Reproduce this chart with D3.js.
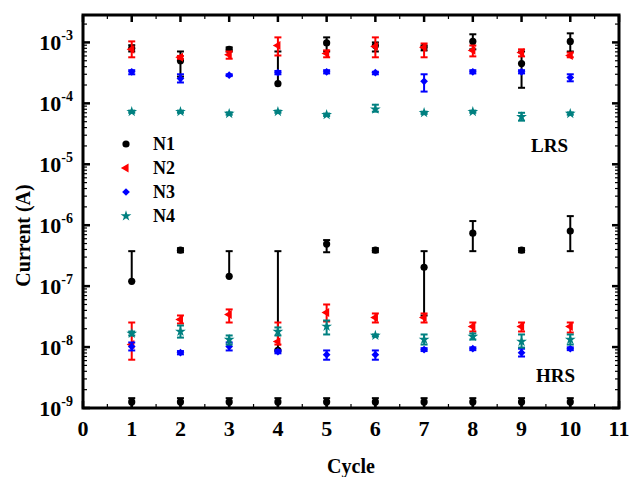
<!DOCTYPE html>
<html>
<head>
<meta charset="utf-8">
<script src="https://cdn.jsdelivr.net/npm/d3@7"></script>
<style>
body{margin:0;background:#fff;}
text{font-family:"Liberation Serif","Times New Roman",serif;font-weight:bold;}
</style>
</head>
<body>
<svg id="chart"></svg>
<script>
// values, cycles 1..10
var cycles=[1,2,3,4,5,6,7,8,9,10];
var xTicks=[0,1,2,3,4,5,6,7,8,9,10,11];
var yTicks=[-9,-8,-7,-6,-5,-4,-3];
var names=["N1","N2","N3","N4"];
var colors=["#000000","#ff0000","#0000ff","#008080"];

// LRS state: mean, lower and upper ends of the error bar
var n1L=[8.0e-4,5.0e-4,7.7e-4,2.1e-4,9.8e-4,8.9e-4,8.3e-4,1.04e-3,4.5e-4,1.04e-3];
var n1Llo=[7.1e-4,2.75e-4,7.1e-4,2.1e-4,7.1e-4,7.1e-4,7.4e-4,7.7e-4,1.8e-4,7.1e-4];
var n1Lhi=[9.0e-4,7.1e-4,8.3e-4,7.1e-4,1.21e-3,1.0e-3,8.9e-4,1.36e-3,7.1e-4,1.41e-3];
var n2L=[7.7e-4,5.7e-4,6.3e-4,8.9e-4,6.6e-4,8.6e-4,8.3e-4,7.4e-4,6.8e-4,6.1e-4];
var n2Llo=[5.7e-4,5.4e-4,5.4e-4,6.1e-4,5.7e-4,5.7e-4,5.7e-4,5.9e-4,5.9e-4,5.7e-4];
var n2Lhi=[1.04e-3,6.0e-4,7.1e-4,1.21e-3,7.4e-4,1.21e-3,9.6e-4,8.9e-4,7.7e-4,6.8e-4];
var n3L=[3.3e-4,2.55e-4,2.9e-4,3.2e-4,3.3e-4,3.2e-4,2.3e-4,3.3e-4,3.3e-4,2.65e-4];
var n3Llo=[3.0e-4,2.2e-4,2.8e-4,3.0e-4,3.1e-4,3.0e-4,1.56e-4,3.1e-4,3.1e-4,2.3e-4];
var n3Lhi=[3.5e-4,3.0e-4,3.0e-4,3.4e-4,3.5e-4,3.3e-4,3.0e-4,3.5e-4,3.5e-4,3.0e-4];
var n4L=[7.3e-5,7.3e-5,6.8e-5,7.3e-5,6.5e-5,8.0e-5,7.0e-5,7.3e-5,6.0e-5,6.8e-5];
var n4Llo=[7.0e-5,7.0e-5,6.5e-5,7.0e-5,6.2e-5,7.3e-5,6.7e-5,7.0e-5,5.2e-5,6.5e-5];
var n4Lhi=[7.6e-5,7.6e-5,7.1e-5,7.6e-5,6.8e-5,9.5e-5,7.3e-5,7.6e-5,7.0e-5,7.1e-5];

// HRS state
var n1H=[1.2e-7,3.9e-7,1.45e-7,8.8e-9,4.9e-7,3.9e-7,2.04e-7,7.4e-7,3.9e-7,8.0e-7];
var n1Hlo=[1.2e-7,3.6e-7,1.45e-7,8.8e-9,3.6e-7,3.6e-7,3.3e-8,3.75e-7,3.6e-7,3.75e-7];
var n1Hhi=[3.75e-7,4.2e-7,3.75e-7,3.75e-7,5.7e-7,4.2e-7,3.75e-7,1.17e-6,4.2e-7,1.41e-6];
var n2H=[1.1e-8,2.84e-8,3.43e-8,1.23e-8,3.7e-8,3.06e-8,3.06e-8,2.18e-8,2.18e-8,2.18e-8];
var n2Hlo=[6.2e-9,2.44e-8,2.53e-8,1.1e-8,2.63e-8,2.53e-8,2.53e-8,1.8e-8,1.8e-8,1.73e-8];
var n2Hhi=[2.53e-8,3.3e-8,4.15e-8,2.53e-8,5.0e-8,3.56e-8,3.56e-8,2.53e-8,2.53e-8,2.53e-8];
var n3H=[1.02e-8,8.1e-9,1.02e-8,8.4e-9,7.5e-9,7.5e-9,9.1e-9,9.4e-9,8.1e-9,9.4e-9];
var n3Hlo=[8.8e-9,7.6e-9,8.8e-9,7.9e-9,6.2e-9,6.2e-9,8.6e-9,8.9e-9,7.0e-9,8.9e-9];
var n3Hhi=[1.19e-8,8.6e-9,1.19e-8,8.9e-9,8.8e-9,8.8e-9,9.6e-9,9.9e-9,9.4e-9,9.9e-9];
var n4H=[1.67e-8,1.8e-8,1.33e-8,1.8e-8,2.18e-8,1.55e-8,1.33e-8,1.49e-8,1.23e-8,1.33e-8];
var n4Hlo=[1.55e-8,1.43e-8,1.1e-8,1.55e-8,1.61e-8,1.49e-8,1.1e-8,1.33e-8,9.8e-9,1.1e-8];
var n4Hhi=[1.8e-8,2.26e-8,1.55e-8,2.1e-8,2.73e-8,1.61e-8,1.61e-8,1.67e-8,1.61e-8,1.61e-8];

// N1 points sitting on the bottom axis
var n1Floor=[1.26e-9,1.26e-9,1.26e-9,1.26e-9,1.26e-9,1.26e-9,1.26e-9,1.26e-9,1.26e-9,1.26e-9];
var n1FloorLo=[1.0e-9,1.0e-9,1.0e-9,1.0e-9,1.0e-9,1.0e-9,1.0e-9,1.0e-9,1.0e-9,1.0e-9];
var n1FloorHi=[1.45e-9,1.45e-9,1.45e-9,1.45e-9,1.45e-9,1.45e-9,1.45e-9,1.45e-9,1.45e-9,1.45e-9];

var screen={width:629,height:477};
var margins={top:15,right:10,bottom:69,left:83};
var W=screen.width-margins.left-margins.right;
var H=screen.height-margins.top-margins.bottom;

var svg=d3.select("#chart").attr("width",screen.width).attr("height",screen.height);
var g=svg.append("g").attr("transform","translate("+margins.left+","+margins.top+")");

var x=d3.scaleLinear().domain([0,11]).range([0,W]);
var y=d3.scaleLog().domain([1e-9,Math.pow(10,-2.55)]).range([H,0]);

svg.append("clipPath").attr("id","clip").append("rect").attr("width",W).attr("height",H);

// series list built from the arrays
var series=[
  {name:"N1",color:colors[0],sym:"circle",sets:[[n1L,n1Llo,n1Lhi],[n1H,n1Hlo,n1Hhi],[n1Floor,n1FloorLo,n1FloorHi]]},
  {name:"N2",color:colors[1],sym:"tri",sets:[[n2L,n2Llo,n2Lhi],[n2H,n2Hlo,n2Hhi]]},
  {name:"N3",color:colors[2],sym:"diamond",sets:[[n3L,n3Llo,n3Lhi],[n3H,n3Hlo,n3Hhi]]},
  {name:"N4",color:colors[3],sym:"star",sets:[[n4L,n4Llo,n4Lhi],[n4H,n4Hlo,n4Hhi]]}
];

var drawSymbol=function(sel,s){
  if(s.sym=="circle"){
    sel.append("circle").attr("r",3.6).attr("fill",s.color);
  } else if(s.sym=="tri"){
    sel.append("path").attr("d",d3.symbol().type(d3.symbolTriangle).size(34)()).attr("transform","rotate(-90)").attr("fill",s.color);
  } else if(s.sym=="diamond"){
    sel.append("path").attr("d",d3.symbol().type(d3.symbolSquare).size(30)()).attr("transform","rotate(45)").attr("fill",s.color);
  } else {
    sel.append("path").attr("d",d3.symbol().type(d3.symbolStar).size(36)()).attr("fill",s.color);
  }
};

var plot=g.append("g").attr("clip-path","url(#clip)");
series.forEach(function(s){
  s.sets.forEach(function(set){
    var pts=cycles.map(function(c,i){return {c:c,v:set[0][i],lo:set[1][i],hi:set[2][i]};});
    var grp=plot.append("g");
    pts.forEach(function(p){
      var cx=x(p.c);
      var eb=grp.append("g").attr("stroke",s.color).attr("stroke-width",2);
      eb.append("line").attr("x1",cx).attr("x2",cx).attr("y1",y(p.lo)).attr("y2",y(p.hi));
      if(p.hi>p.v) eb.append("line").attr("x1",cx-3.5).attr("x2",cx+3.5).attr("y1",y(p.hi)).attr("y2",y(p.hi));
      if(p.lo<p.v) eb.append("line").attr("x1",cx-3.5).attr("x2",cx+3.5).attr("y1",y(p.lo)).attr("y2",y(p.lo));
      var m=grp.append("g").attr("transform","translate("+cx+","+y(p.v)+")");
      drawSymbol(m,s);
    });
  });
});

// axes: ticks pointing inward on all four sides
var minors=[];
for(var e=-9;e<-2;e++){for(var k=2;k<10;k++){var v=k*Math.pow(10,e);if(v<y.domain()[1])minors.push(v);}}
var xMinors=d3.range(0.5,11,1);

var ax=g.append("g").attr("stroke","#000");
yTicks.forEach(function(t){
  var yy=y(Math.pow(10,t));
  ax.append("line").attr("x1",0).attr("x2",7).attr("y1",yy).attr("y2",yy).attr("stroke-width",2.5);
  ax.append("line").attr("x1",W).attr("x2",W-7).attr("y1",yy).attr("y2",yy).attr("stroke-width",2.5);
});
minors.forEach(function(v){
  var yy=y(v);
  ax.append("line").attr("x1",0).attr("x2",4).attr("y1",yy).attr("y2",yy).attr("stroke-width",1.2);
  ax.append("line").attr("x1",W).attr("x2",W-4).attr("y1",yy).attr("y2",yy).attr("stroke-width",1.2);
});
xTicks.forEach(function(t){
  ax.append("line").attr("x1",x(t)).attr("x2",x(t)).attr("y1",H).attr("y2",H-7).attr("stroke-width",2.5);
  ax.append("line").attr("x1",x(t)).attr("x2",x(t)).attr("y1",0).attr("y2",7).attr("stroke-width",2.5);
});
xMinors.forEach(function(t){
  ax.append("line").attr("x1",x(t)).attr("x2",x(t)).attr("y1",H).attr("y2",H-4).attr("stroke-width",1.2);
  ax.append("line").attr("x1",x(t)).attr("x2",x(t)).attr("y1",0).attr("y2",4).attr("stroke-width",1.2);
});
g.append("rect").attr("width",W).attr("height",H).attr("fill","none").attr("stroke","#000").attr("stroke-width",3);

// tick labels
g.selectAll(".xl").data(xTicks).enter().append("text")
  .attr("x",function(d){return x(d);}).attr("y",H+28)
  .attr("text-anchor","middle").style("font-size","22px").text(function(d){return d;});
var yl=g.selectAll(".yl").data(yTicks).enter().append("text")
  .attr("x",-10).attr("y",function(d){return y(Math.pow(10,d))+8;})
  .attr("text-anchor","end").style("font-size","22px");
yl.append("tspan").text("10");
yl.append("tspan").attr("dy",-10).style("font-size","14px").text(function(d){return "-"+(-d);});

// axis titles
svg.append("text").attr("x",margins.left+W/2).attr("y",473).attr("text-anchor","middle").style("font-size","20px").text("Cycle");
svg.append("text").attr("transform","translate(30,"+(margins.top+H/2+24)+") rotate(-90)").attr("text-anchor","middle").style("font-size","20px").text("Current (A)");

// state labels
svg.append("text").attr("x",531).attr("y",152).style("font-size","19px").text("LRS");
svg.append("text").attr("x",536).attr("y",382).style("font-size","19px").text("HRS");

// legend
var leg=svg.append("g");
series.forEach(function(s,i){
  var row=leg.append("g").attr("transform","translate(126,"+(144+i*24)+")");
  drawSymbol(row.append("g"),s);
  row.append("text").attr("x",27).attr("y",6).style("font-size","18px").text(s.name);
});
</script>
</body>
</html>
